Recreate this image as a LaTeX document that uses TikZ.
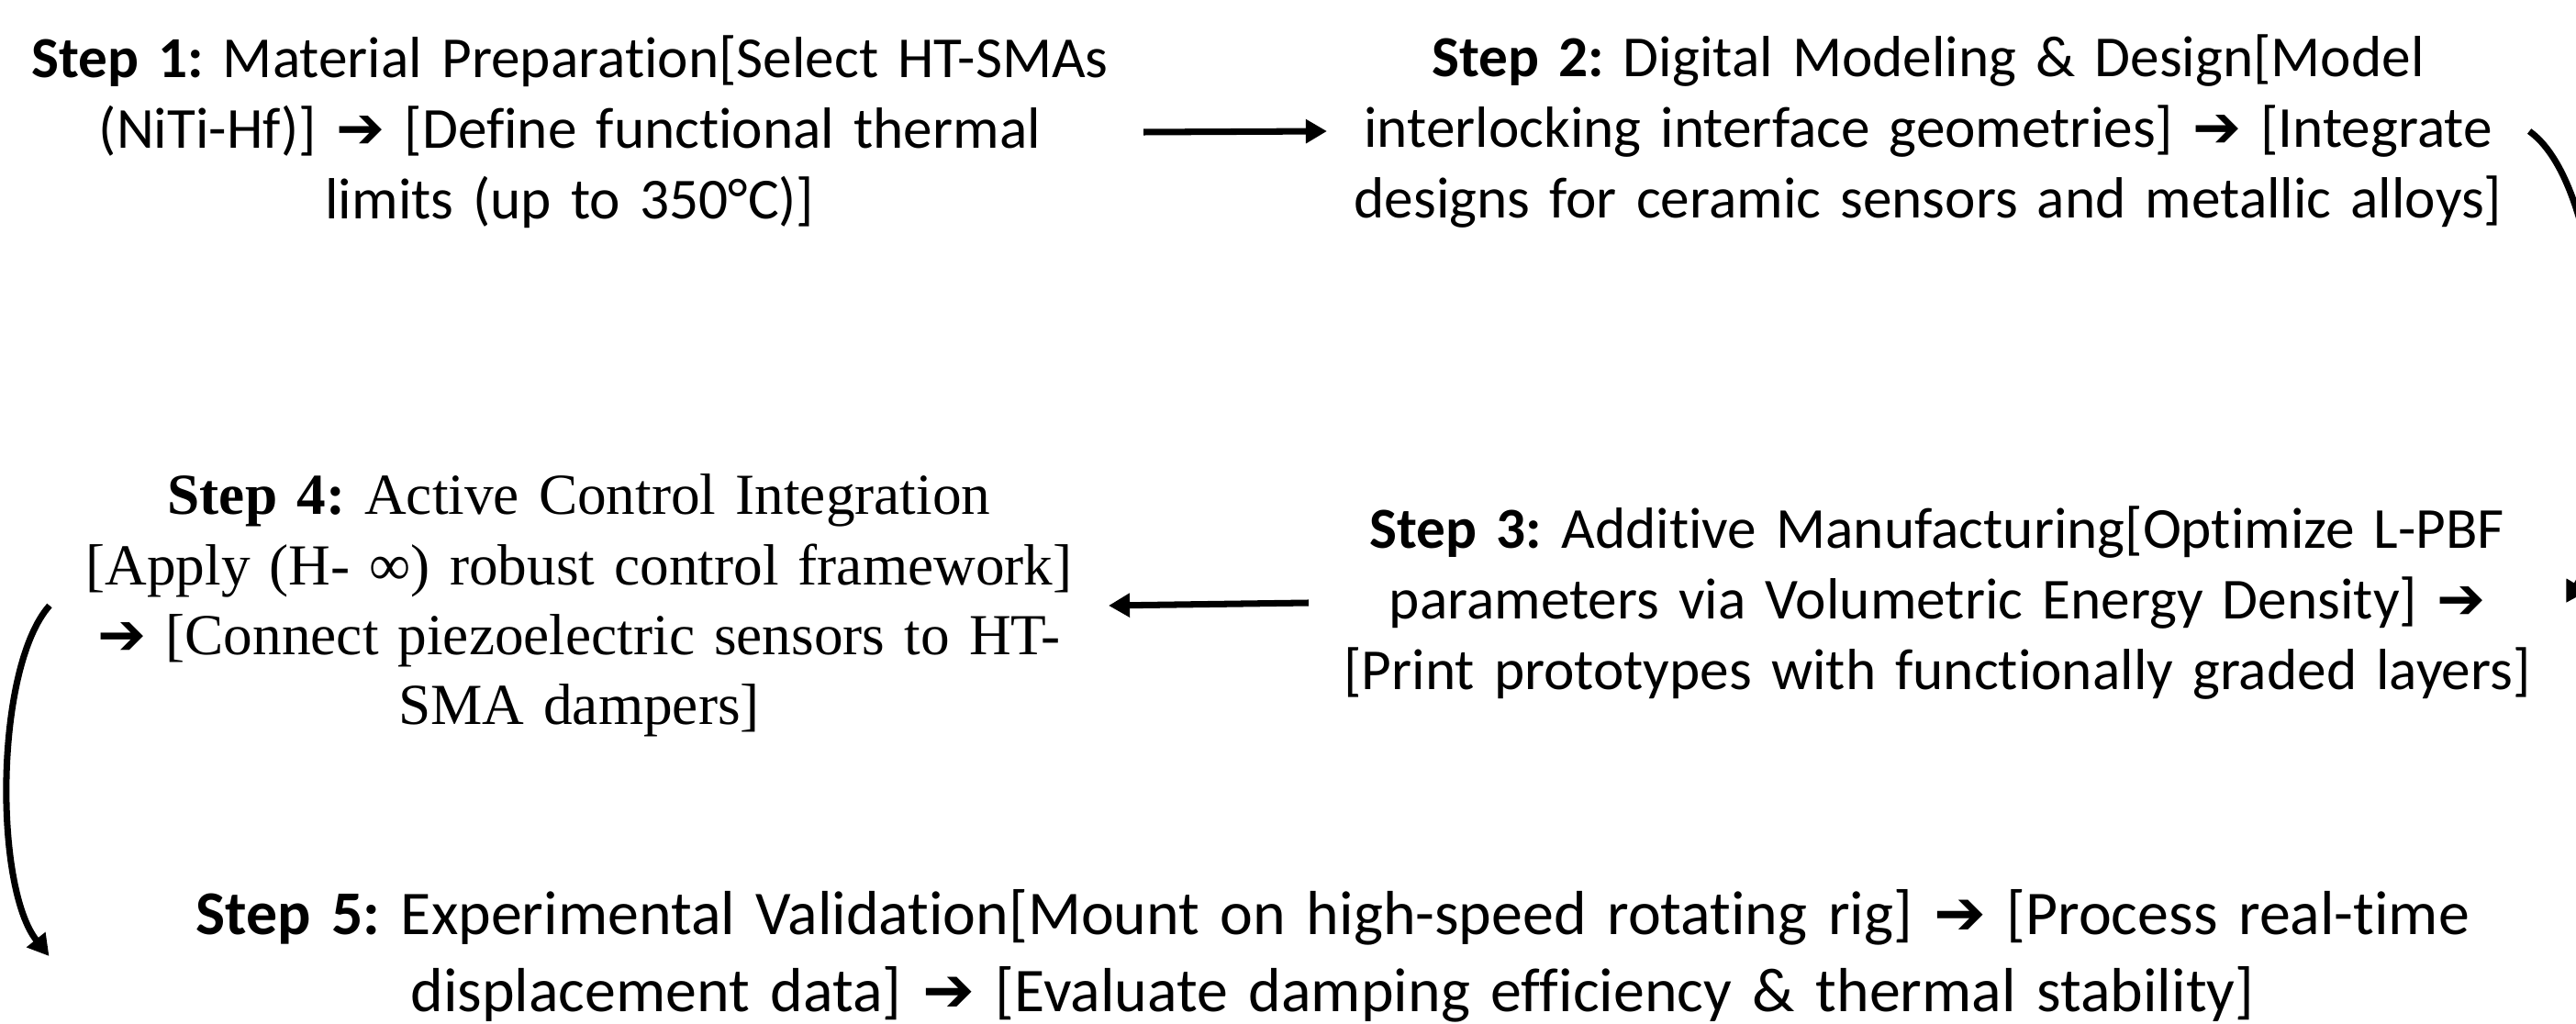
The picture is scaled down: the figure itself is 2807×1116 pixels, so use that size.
\documentclass[tikz,border=0pt]{standalone}
\usepackage{fontspec}
\setmainfont{Carlito}[Ligatures=NoCommon]
\newfontfamily\tnr{Liberation Serif}
\newfontfamily\sym{DejaVu Sans}
\usetikzlibrary{arrows.meta}
\newcommand{\ar}{{\sym ➔}}
\frenchspacing
\tikzset{
  stepnode/.style={inner sep=0pt, align=center, font=\fontsize{18pt}{21.9pt}\selectfont},
  serifnode/.style={inner sep=0pt, align=center, font=\tnr\fontsize{18pt}{21.7pt}\selectfont},
  arr/.style={line width=2pt, -{Triangle[length=0.23cm, width=0.25cm]}},
}
\begin{document}
\begin{tikzpicture}[x=0.01cm, y=-0.01cm]
\useasboundingbox (0,0) rectangle (2807,1116);
\path[clip] (0,0) rectangle (2807,1116);
\fill[white] (0,0) rectangle (2807,1116);

\node[stepnode, text width=12.48cm] (s1) at (621,144)
  {\textbf{Step 1:} Material Preparation[Select HT-SMAs\\(NiTi-Hf)] \ar{} [Define functional thermal\\limits (up to 350°C)]};
\node[stepnode, text width=13.08cm] (s2) at (2101,143)
  {\textbf{Step 2:} Digital Modeling \& Design[Model\\interlocking interface geometries] \ar{} [Integrate\\designs for ceramic sensors and metallic alloys]};
\node[stepnode, text width=13.68cm] (s3) at (2111,657)
  {\textbf{Step 3:} Additive Manufacturing[Optimize L-PBF\\parameters via Volumetric Energy Density] \ar\\{}[Print prototypes with functionally graded layers]};
\node[serifnode, text width=11.52cm] (s4) at (631,660)
  {\textbf{Step 4:} Active Control Integration\\{}[Apply (H- ∞) robust control framework]\\\ar{} [Connect piezoelectric sensors to HT-\\SMA dampers]};
\node[stepnode, text width=27.94cm, font=\fontsize{19.3pt}{23.9pt}\selectfont] (s5) at (1452,1042)
  {\textbf{Step 5:} Experimental Validation[Mount on high-speed rotating rig] \ar{} [Process real-time\\displacement data] \ar{} [Evaluate damping efficiency \& thermal stability]};

\draw[arr] (s1.east) -- (s2.west);
\draw[arr] (s2.east) .. controls +(95,68) and +(57,-95) .. (s3.east);
\draw[arr] (s3.west) -- (s4.east);
\draw[arr] (s4.west) .. controls +(-60,68) and +(-60,-75) .. (s5.west);
\end{tikzpicture}
\end{document}
